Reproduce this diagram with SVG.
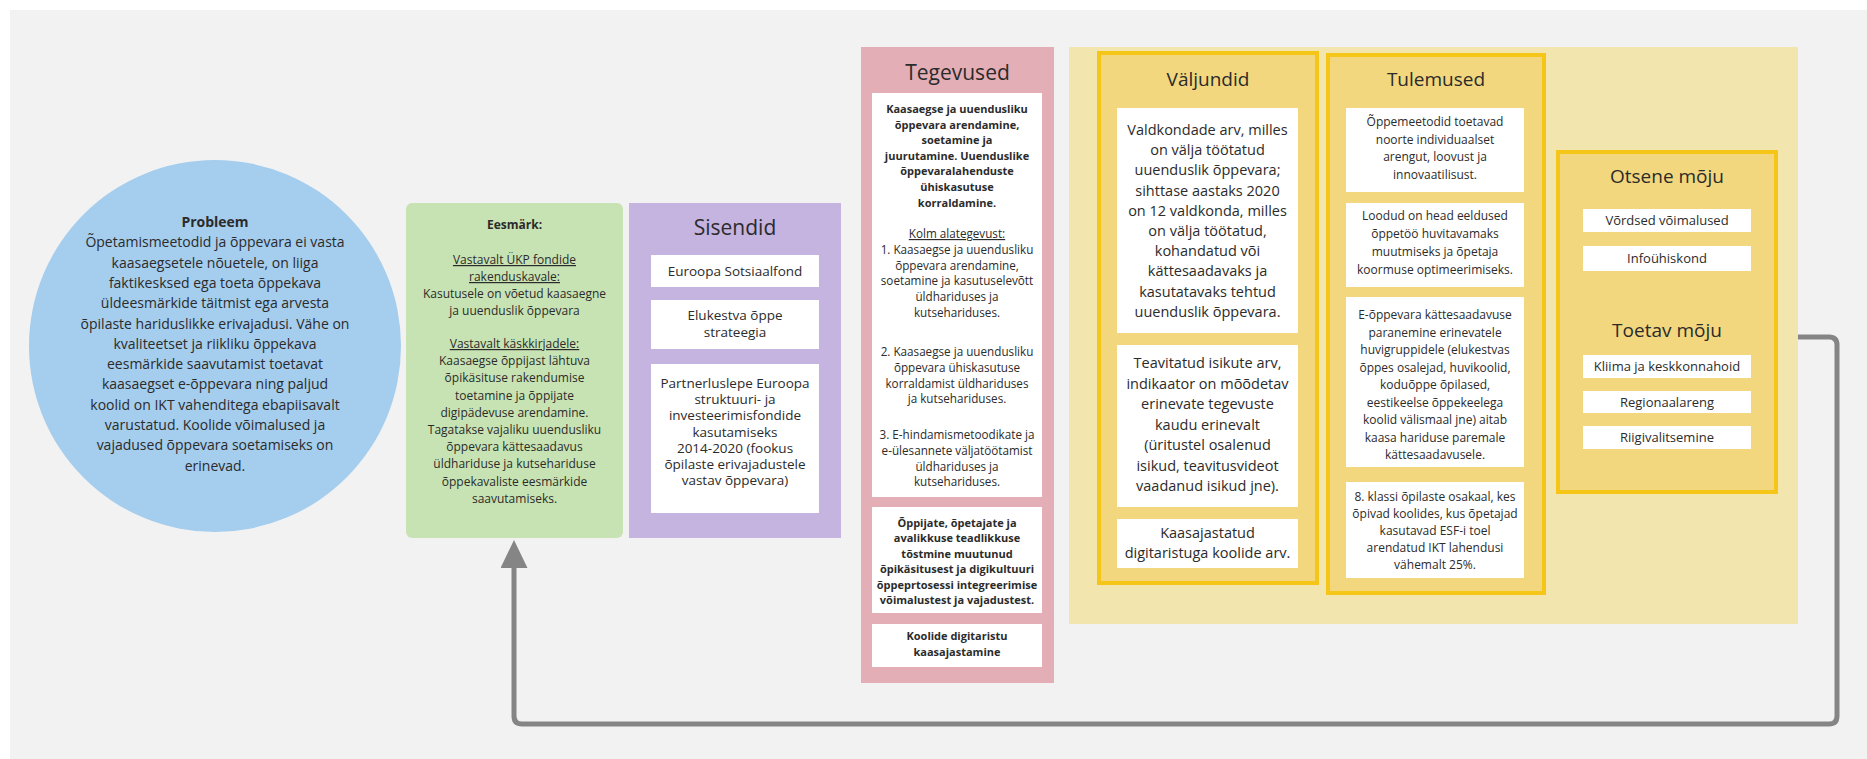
<svg xmlns="http://www.w3.org/2000/svg" width="1867" height="759" viewBox="0 0 1867 759">
<defs>
<style>
text{font-family:"Open Sans","Noto Sans","DejaVu Sans",sans-serif;fill:#2b2b2b;text-anchor:middle}
.t14{font-size:14px}
.t14b{font-size:14px;font-weight:bold}
.t12{font-size:12px}
.t12b{font-size:12px;font-weight:bold}
.t135{font-size:13.5px}
.t117{font-size:11.7px}
.t11b{font-size:11px;font-weight:bold}
.t145{font-size:14.5px}
.t13{font-size:13px}
.h21{font-size:21px}
.h19{font-size:19px}
.u{text-decoration:underline}
.wb{fill:#ffffff}
.ybox{fill:#f2d77e;stroke:#f5c518;stroke-width:4}
.conn{fill:none;stroke:#858585;stroke-width:5}
</style>
<marker id="arr" viewBox="0 0 28 27" refX="8" refY="13.5" markerWidth="28" markerHeight="27" markerUnits="userSpaceOnUse" orient="auto">
<path d="M0,0 L28,13.5 L0,27 z" fill="#858585"/>
</marker>
</defs>
<rect x="0" y="0" width="1867" height="759" fill="#ffffff"/>
<rect x="10" y="10" width="1857" height="749" fill="#f2f2f2"/>

<g id="connectors">
<path class="conn" d="M1798,337 H1829 Q1837,337 1837,345 V716 Q1837,724 1829,724 H522 Q514,724 514,716 V560" marker-end="url(#arr)"/>
</g>

<g id="probleem">
<circle cx="215" cy="346" r="186" fill="#a4cdee"/>
<text class="t14b" x="215" y="227">Probleem</text>
<text class="t14" x="215" y="247.3">Õpetamismeetodid ja õppevara ei vasta</text>
<text class="t14" x="215" y="267.6">kaasaegsetele nõuetele, on liiga</text>
<text class="t14" x="215" y="287.9">faktikesksed ega toeta õppekava</text>
<text class="t14" x="215" y="308.2">üldeesmärkide täitmist ega arvesta</text>
<text class="t14" x="215" y="328.5">õpilaste hariduslikke erivajadusi. Vähe on</text>
<text class="t14" x="215" y="348.8">kvaliteetset ja riikliku õppekava</text>
<text class="t14" x="215" y="369.1">eesmärkide saavutamist toetavat</text>
<text class="t14" x="215" y="389.4">kaasaegset e-õppevara ning paljud</text>
<text class="t14" x="215" y="409.7">koolid on IKT vahenditega ebapiisavalt</text>
<text class="t14" x="215" y="430">varustatud. Koolide võimalused ja</text>
<text class="t14" x="215" y="450.3">vajadused õppevara soetamiseks on</text>
<text class="t14" x="215" y="470.6">erinevad.</text>
</g>

<g id="eesmark">
<rect x="406" y="203" width="217" height="335" rx="6" fill="#c8e3b3"/>
<text class="t12b" x="514.5" y="229">Eesmärk:</text>
<text class="t12 u" x="514.5" y="264">Vastavalt ÜKP fondide </text>
<text class="t12 u" x="514.5" y="281">rakenduskavale:</text>
<text class="t12" x="514.5" y="298">Kasutusele on võetud kaasaegne</text>
<text class="t12" x="514.5" y="315">ja uuenduslik õppevara</text>
<text class="t12 u" x="514.5" y="348">Vastavalt käskkirjadele:</text>
<text class="t12" x="514.5" y="365.2">Kaasaegse õppijast lähtuva</text>
<text class="t12" x="514.5" y="382.4">õpikäsituse rakendumise</text>
<text class="t12" x="514.5" y="399.6">toetamine ja õppijate</text>
<text class="t12" x="514.5" y="416.8">digipädevuse arendamine.</text>
<text class="t12" x="514.5" y="434">Tagatakse vajaliku uuendusliku</text>
<text class="t12" x="514.5" y="451.2">õppevara kättesaadavus</text>
<text class="t12" x="514.5" y="468.4">üldhariduse ja kutsehariduse</text>
<text class="t12" x="514.5" y="485.6">õppekavaliste eesmärkide</text>
<text class="t12" x="514.5" y="502.8">saavutamiseks.</text>
</g>

<g id="sisendid">
<rect x="629" y="203" width="212" height="335" fill="#c5b3e0"/>
<text class="h21" x="735" y="235">Sisendid</text>
<rect class="wb" x="651" y="255" width="168" height="32"/>
<text class="t135" x="735" y="275.5">Euroopa Sotsiaalfond</text>
<rect class="wb" x="651" y="300" width="168" height="49"/>
<text class="t135" x="735" y="320">Elukestva õppe</text>
<text class="t135" x="735" y="337">strateegia</text>
<rect class="wb" x="651" y="364" width="168" height="149"/>
<text class="t135" x="735" y="387.8">Partnerluslepe Euroopa</text>
<text class="t135" x="735" y="403.9">struktuuri- ja</text>
<text class="t135" x="735" y="420.2">investeerimisfondide</text>
<text class="t135" x="735" y="436.8">kasutamiseks</text>
<text class="t135" x="735" y="453.2">2014-2020 (fookus</text>
<text class="t135" x="735" y="468.8">õpilaste erivajadustele</text>
<text class="t135" x="735" y="484.5">vastav õppevara)</text>
</g>

<g id="tegevused">
<rect x="861" y="47" width="193" height="636" fill="#e4aeb6"/>
<text class="h21" x="957.5" y="80">Tegevused</text>
<rect class="wb" x="872" y="93" width="170" height="404"/>
<text class="t11b" x="957" y="113">Kaasaegse ja uuendusliku</text>
<text class="t11b" x="957" y="128.6">õppevara arendamine,</text>
<text class="t11b" x="957" y="144.2">soetamine ja</text>
<text class="t11b" x="957" y="159.8">juurutamine. Uuenduslike</text>
<text class="t11b" x="957" y="175.4">õppevaralahenduste</text>
<text class="t11b" x="957" y="191">ühiskasutuse</text>
<text class="t11b" x="957" y="206.6">korraldamine.</text>
<text class="t117 u" x="957" y="238">Kolm alategevust:</text>
<text class="t117" x="957" y="253.8">1. Kaasaegse ja uuendusliku</text>
<text class="t117" x="957" y="269.6">õppevara arendamine,</text>
<text class="t117" x="957" y="285.4">soetamine ja kasutuselevõtt</text>
<text class="t117" x="957" y="301.2">üldhariduses ja</text>
<text class="t117" x="957" y="317">kutsehariduses.</text>
<text class="t117" x="957" y="356">2. Kaasaegse ja uuendusliku</text>
<text class="t117" x="957" y="371.8">õppevara ühiskasutuse</text>
<text class="t117" x="957" y="387.6">korraldamist üldhariduses</text>
<text class="t117" x="957" y="403.4">ja kutsehariduses.</text>
<text class="t117" x="957" y="439">3. E-hindamismetoodikate ja</text>
<text class="t117" x="957" y="454.8">e-ülesannete väljatöötamist</text>
<text class="t117" x="957" y="470.6">üldhariduses ja</text>
<text class="t117" x="957" y="486.4">kutsehariduses.</text>
<rect class="wb" x="872" y="507" width="170" height="106"/>
<text class="t11b" x="957" y="527">Õppijate, õpetajate ja</text>
<text class="t11b" x="957" y="542.4">avalikkuse teadlikkuse</text>
<text class="t11b" x="957" y="557.8">tõstmine muutunud</text>
<text class="t11b" x="957" y="573.2">õpikäsitusest ja digikultuuri</text>
<text class="t11b" x="957" y="588.6">õppeprtosessi integreerimise</text>
<text class="t11b" x="957" y="604">võimalustest ja vajadustest.</text>
<rect class="wb" x="872" y="624" width="170" height="43"/>
<text class="t11b" x="957" y="639.5">Koolide digitaristu</text>
<text class="t11b" x="957" y="656">kaasajastamine</text>
</g>

<g id="mojud-taust">
<rect x="1069" y="47" width="729" height="577" fill="#f3e5ae"/>
</g>

<g id="valjundid">
<rect class="ybox" x="1099" y="53" width="218" height="530"/>
<text class="h19" x="1208" y="86">Väljundid</text>
<rect class="wb" x="1117" y="108" width="181" height="225"/>
<text class="t145" x="1207.5" y="135">Valdkondade arv, milles</text>
<text class="t145" x="1207.5" y="155.2">on välja töötatud</text>
<text class="t145" x="1207.5" y="175.4">uuenduslik õppevara;</text>
<text class="t145" x="1207.5" y="195.6">sihttase aastaks 2020</text>
<text class="t145" x="1207.5" y="215.8">on 12 valdkonda, milles</text>
<text class="t145" x="1207.5" y="236">on välja töötatud,</text>
<text class="t145" x="1207.5" y="256.2">kohandatud või</text>
<text class="t145" x="1207.5" y="276.4">kättesaadavaks ja</text>
<text class="t145" x="1207.5" y="296.6">kasutatavaks tehtud</text>
<text class="t145" x="1207.5" y="316.8">uuenduslik õppevara.</text>
<rect class="wb" x="1117" y="345" width="181" height="162"/>
<text class="t145" x="1207.5" y="368">Teavitatud isikute arv,</text>
<text class="t145" x="1207.5" y="388.5">indikaator on mõõdetav</text>
<text class="t145" x="1207.5" y="409">erinevate tegevuste</text>
<text class="t145" x="1207.5" y="429.5">kaudu erinevalt</text>
<text class="t145" x="1207.5" y="450">(üritustel osalenud</text>
<text class="t145" x="1207.5" y="470.5">isikud, teavitusvideot</text>
<text class="t145" x="1207.5" y="491">vaadanud isikud jne).</text>
<rect class="wb" x="1117" y="519" width="181" height="49"/>
<text class="t145" x="1207.5" y="538">Kaasajastatud</text>
<text class="t145" x="1207.5" y="558">digitaristuga koolide arv.</text>
</g>

<g id="tulemused">
<rect class="ybox" x="1328" y="55" width="216" height="538"/>
<text class="h19" x="1436" y="86">Tulemused</text>
<rect class="wb" x="1346" y="108" width="178" height="84"/>
<text class="t12" x="1435" y="126">Õppemeetodid toetavad</text>
<text class="t12" x="1435" y="143.6">noorte individuaalset</text>
<text class="t12" x="1435" y="161.2">arengut, loovust ja</text>
<text class="t12" x="1435" y="178.8">innovaatilisust.</text>
<rect class="wb" x="1346" y="203" width="178" height="84"/>
<text class="t12" x="1435" y="220">Loodud on head eeldused</text>
<text class="t12" x="1435" y="238">õppetöö huvitavamaks</text>
<text class="t12" x="1435" y="256">muutmiseks ja õpetaja</text>
<text class="t12" x="1435" y="274">koormuse optimeerimiseks.</text>
<rect class="wb" x="1346" y="297" width="178" height="170"/>
<text class="t12" x="1435" y="319">E-õppevara kättesaadavuse</text>
<text class="t12" x="1435" y="336.5">paranemine erinevatele</text>
<text class="t12" x="1435" y="354">huvigruppidele (elukestvas</text>
<text class="t12" x="1435" y="371.5">õppes osalejad, huvikoolid,</text>
<text class="t12" x="1435" y="389">koduõppe õpilased,</text>
<text class="t12" x="1435" y="406.5">eestikeelse õppekeelega</text>
<text class="t12" x="1435" y="424">koolid välismaal jne) aitab</text>
<text class="t12" x="1435" y="441.5">kaasa hariduse paremale</text>
<text class="t12" x="1435" y="459">kättesaadavusele.</text>
<rect class="wb" x="1346" y="482" width="178" height="96"/>
<text class="t12" x="1435" y="501">8. klassi õpilaste osakaal, kes</text>
<text class="t12" x="1435" y="518">õpivad koolides, kus õpetajad</text>
<text class="t12" x="1435" y="535">kasutavad ESF-i toel</text>
<text class="t12" x="1435" y="552">arendatud IKT lahendusi</text>
<text class="t12" x="1435" y="569">vähemalt 25%.</text>
</g>

<g id="moju">
<rect class="ybox" x="1558" y="152" width="218" height="340"/>
<text class="h19" x="1667" y="183">Otsene mõju</text>
<rect class="wb" x="1583" y="209" width="168" height="23"/>
<text class="t13" x="1667" y="225">Võrdsed võimalused</text>
<rect class="wb" x="1583" y="246" width="168" height="25"/>
<text class="t13" x="1667" y="263">Infoühiskond</text>
<text class="h19" x="1667" y="337">Toetav mõju</text>
<rect class="wb" x="1583" y="355" width="168" height="23"/>
<text class="t13" x="1667" y="371">Kliima ja keskkonnahoid</text>
<rect class="wb" x="1583" y="391" width="168" height="22"/>
<text class="t13" x="1667" y="406.5">Regionaalareng</text>
<rect class="wb" x="1583" y="426" width="168" height="23"/>
<text class="t13" x="1667" y="442">Riigivalitsemine</text>
</g>
</svg>
